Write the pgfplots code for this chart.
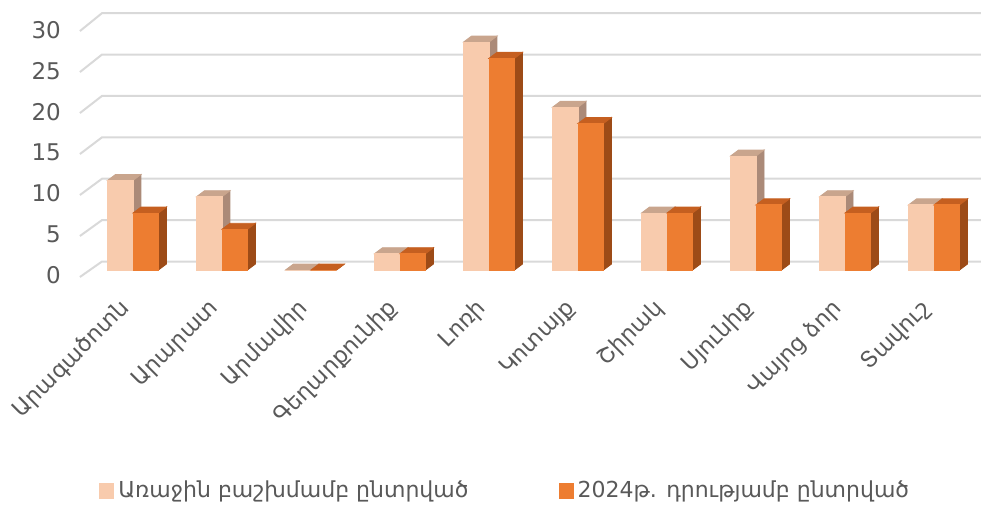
\documentclass[border=0pt]{standalone}
\usepackage{fontspec}
\setmainfont{DejaVu Sans}
\usepackage{pgfplots}
\usepackage{pgfplotstable}
\pgfplotsset{compat=1.18}

\definecolor{aFront}{HTML}{F8CBAD}
\definecolor{aTop}{HTML}{C9A58D}
\definecolor{aSide}{HTML}{AB8A78}
\definecolor{bFront}{HTML}{ED7D31}
\definecolor{bTop}{HTML}{C55F20}
\definecolor{bSide}{HTML}{9D4B17}
\definecolor{gridc}{HTML}{D9D9D9}
\definecolor{txt}{HTML}{595959}

% region, first allocation, 2024 re-run
\pgfplotstableread{
x a b
0 11 7
1 9 5
2 0 0
3 2 2
4 28 26
5 20 18
6 7 7
7 14 8
8 9 7
9 8 8
}\seats

\pgfdeclareplotmark{nothing}{}
\pgfplotsset{sqlegend/.style={legend image code/.code={\fill[##1] (-1.5pt,-3.8pt) rectangle (6.1pt,3.8pt);}}}

\begin{document}
\begin{tikzpicture}
\begin{axis}[
    x=44.5pt, y=4.07pt,
    xmin=-0.596, xmax=9.528, ymin=0, ymax=31.6,
    clip=false,
    axis line style={draw=none},
    major tick length=0pt,
    xtick={0,...,9},
    xticklabels={Արագածոտն,Արարատ,Արմավիր,Գեղարքունիք,Լոռի,Կոտայք,Շիրակ,Սյունիք,Վայոց ձոր,Տավուշ},
    xticklabel style={font=\fontsize{11.2}{13}\selectfont, text=txt, anchor=east, xshift=-1pt, yshift=-15pt, rotate=45},
    ytick={0,5,...,30},
    yticklabel style={font=\fontsize{11.5}{13}\selectfont, text=txt, anchor=east, xshift=-6pt, yshift=-2.4pt},
    /pgf/number format/assume math mode=true,
    legend columns=2,
    legend cell align=left,
    legend style={draw=none, at={(0.473,-0.859)}, anchor=center,
        font=\fontsize{11}{13}\selectfont, text=txt,
        /tikz/every even column/.append style={column sep=43pt}},
]
% floor edges and back-wall gridlines
\pgfplotsinvokeforeach{0,5,...,30}{
  \draw[gridc, line width=1pt] (axis cs:-0.596,{-0.86+1.007*#1}) -- (axis cs:-0.348,{1.044+1.017*#1}) -- (axis cs:9.528,{1.044+1.017*#1});
}

% plain fronts (also give the legend)
\addplot[ybar, bar width=12.75pt, bar shift=-6.375pt, fill=aFront, draw=none, sqlegend]
  table[x=x, y=a] {\seats};
\addplot[ybar, bar width=12.75pt, bar shift=6.375pt, fill=bFront, draw=none, sqlegend]
  table[x=x, y=b] {\seats};

% whole 3-d columns, drawn as marks so each series stacks in order
\addplot[forget plot, only marks, mark=nothing, scatter,
    visualization depends on={y \as \hv},
    scatter/@pre marker code/.code={
      \fill[aSide] (0pt,0pt) -- (4pt,3pt) -- (4pt,{3pt-\hv*4.07pt}) -- (0pt,{-\hv*4.07pt}) -- cycle;
      \fill[aTop] (-12.75pt,0pt) -- (-8.75pt,3pt) -- (4pt,3pt) -- (0pt,0pt) -- cycle;
      \fill[aFront] (-12.75pt,{-\hv*4.07pt}) rectangle (0pt,0pt);
    },
    scatter/@post marker code/.code={}]
  table[x=x, y=a] {\seats};
\addplot[forget plot, only marks, mark=nothing, scatter,
    visualization depends on={y \as \hv},
    scatter/@pre marker code/.code={
      \fill[bSide] (12.75pt,0pt) -- (16.75pt,3pt) -- (16.75pt,{3pt-\hv*4.07pt}) -- (12.75pt,{-\hv*4.07pt}) -- cycle;
      \fill[bTop] (0pt,0pt) -- (4pt,3pt) -- (16.75pt,3pt) -- (12.75pt,0pt) -- cycle;
      \fill[bFront] (0pt,{-\hv*4.07pt}) rectangle (12.75pt,0pt);
    },
    scatter/@post marker code/.code={}]
  table[x=x, y=b] {\seats};

\legend{Առաջին բաշխմամբ ընտրված, 2024թ. դրությամբ ընտրված}
\coordinate (bbA) at (axis cs:-1.494,33.17);
\coordinate (bbB) at (axis cs:9.528,-28.99);
\end{axis}
\pgfresetboundingbox
\path[use as bounding box] (bbA) rectangle (bbB);
\end{tikzpicture}
\end{document}
